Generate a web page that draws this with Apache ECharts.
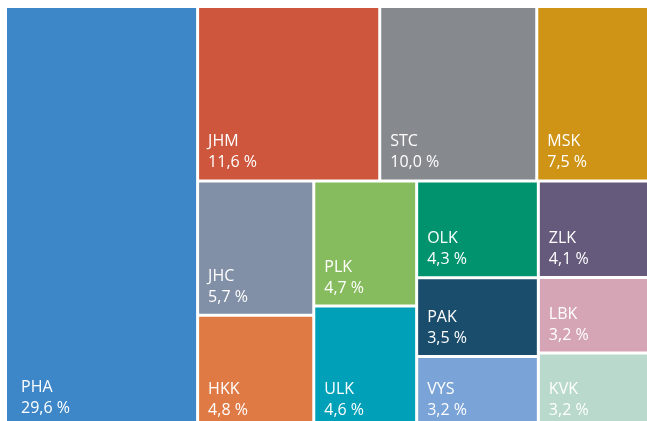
<!DOCTYPE html>
<html>
<head>
<meta charset="utf-8">
<script src="https://cdn.jsdelivr.net/npm/echarts@6/dist/echarts.min.js"></script>
<style>html,body{margin:0;padding:0;background:#fff;overflow:hidden;}#c{width:647px;height:421px;}</style>
</head>
<body>
<div id="c"></div>
<script>
// Share of each region (%)
const regions = ['PHA','JHM','STC','MSK','JHC','HKK','PLK','ULK','OLK','PAK','VYS','ZLK','LBK','KVK'];
const shares  = [29.6, 11.6, 10.0, 7.5, 5.7, 4.8, 4.7, 4.6, 4.3, 3.5, 3.2, 4.1, 3.2, 3.2];
const colors  = ['#3d87c8','#cd563c','#868a8f','#cf9415','#8190a6','#e07a45','#86bc5e','#00a0b8','#00936e','#1a4c6c','#7aa3d8','#665a7c','#d6a5b5','#b9d9cd'];

// Grouping of the tiles (tree structure only, no sizes)
const groupTree = ['PHA', [['JHM','STC','MSK'], [[['JHC','HKK'], ['PLK','ULK']], [['OLK','PAK','VYS'], ['ZLK','LBK','KVK']]]]];

function leaf(code) {
  const i = regions.indexOf(code);
  const node = { name: code, value: shares[i], itemStyle: { color: colors[i] } };
  if (code === 'PHA') node.label = { padding: [0, 0, 3, 9] };
  return node;
}
function build(n, path) {
  if (typeof n === 'string') return leaf(n);
  return { name: 'g' + path, children: n.map((c, k) => build(c, path + '-' + k)) };
}
const data = groupTree.map((n, k) => build(n, String(k)));

const chart = echarts.init(document.getElementById('c'), null, { renderer: 'canvas' });
chart.setOption({
  animation: false,
  series: [{
    type: 'treemap',
    left: 7, top: 8, width: 646, height: 419,
    sort: false,
    squareRatio: 1.245,
    roam: false,
    nodeClick: false,
    breadcrumb: { show: false },
    itemStyle: { gapWidth: 3, borderWidth: 0, borderColor: '#ffffff' },
    levels: [
      { itemStyle: { gapWidth: 3, borderWidth: 0, borderColor: '#ffffff' } }
    ],
    label: {
      show: true,
      position: 'insideBottomLeft',
      distance: 5,
      padding: [0, 0, 1, 4],
      color: '#ffffff',
      fontFamily: 'Open Sans',
      fontSize: 16,
      lineHeight: 21,
      formatter: p => p.name + '\n' + p.value.toFixed(1).replace('.', ',') + ' %'
    },
    upperLabel: { show: false },
    data: data
  }]
});
</script>
</body>
</html>
